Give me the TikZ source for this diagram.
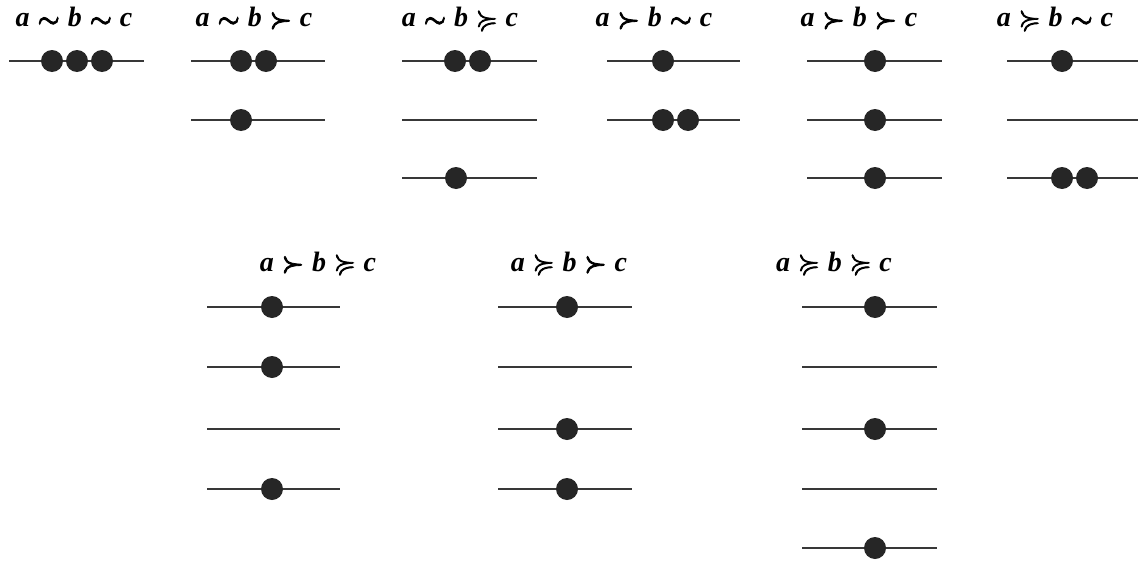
\documentclass[tikz,border=0pt]{standalone}
\usepackage{amssymb}
\usepackage{fontspec}
\setmainfont{Liberation Serif}
\newcommand{\lvline}[4]{%
  \coordinate (#1-w) at (#2,#4);
  \coordinate (#1-e) at (#3,#4);
  \draw[lvl] (#1-w) -- (#1-e);}
\newcommand{\R}[1]{$\mskip5mu\mathrel{\special{pdf:literal direct 2 Tr 0.8 w}#1\special{pdf:literal direct 0 Tr}}\mskip5mu$}
\begin{document}
\begin{tikzpicture}[x=1pt,y=-1pt,
  lvl/.style={line width=1.7pt, draw=black!78},
  pt/.style={circle, fill=black!85, inner sep=0pt, minimum size=22pt},
  lab/.style={font=\fontsize{28}{30}\selectfont\bfseries\itshape\boldmath, anchor=base, inner sep=0pt}]
\path[use as bounding box, fill=white] (0,0) rectangle (1138,562);

% ---------- labels ----------
\node[lab] (t1) at (74,27)   {a\R{\sim}b\R{\sim}c};
\node[lab] (t2) at (254,27)  {a\R{\sim}b\R{\succ}c};
\node[lab] (t3) at (460,27)  {a\R{\sim}b\R{\succcurlyeq}c};
\node[lab] (t4) at (654,27)  {a\R{\succ}b\R{\sim}c};
\node[lab] (t5) at (859,27)  {a\R{\succ}b\R{\succ}c};
\node[lab] (t6) at (1055,27) {a\R{\succcurlyeq}b\R{\sim}c};
\node[lab] (t7) at (318,271) {a\R{\succ}b\R{\succcurlyeq}c};
\node[lab] (t8) at (569,271) {a\R{\succcurlyeq}b\R{\succ}c};
\node[lab] (t9) at (834,271) {a\R{\succcurlyeq}b\R{\succcurlyeq}c};

% ---------- column 1 ----------
\lvline{c1r1}{9}{144}{61}
\node[pt] (c1d1) at (52,61) {};
\node[pt] (c1d2) at (77,61) {};
\node[pt] (c1d3) at (102,61) {};

% ---------- column 2 ----------
\lvline{c2r1}{191}{325}{61}
\lvline{c2r2}{191}{325}{120}
\node[pt] (c2d1) at (241,61) {};
\node[pt] (c2d2) at (266,61) {};
\node[pt] (c2d3) at (241,120) {};

% ---------- column 3 ----------
\lvline{c3r1}{402}{537}{61}
\lvline{c3r2}{402}{537}{120}
\lvline{c3r3}{402}{537}{178}
\node[pt] (c3d1) at (455,61) {};
\node[pt] (c3d2) at (480,61) {};
\node[pt] (c3d3) at (456,178) {};

% ---------- column 4 ----------
\lvline{c4r1}{607}{740}{61}
\lvline{c4r2}{607}{740}{120}
\node[pt] (c4d1) at (663,61) {};
\node[pt] (c4d2) at (663,120) {};
\node[pt] (c4d3) at (688,120) {};

% ---------- column 5 ----------
\lvline{c5r1}{807}{942}{61}
\lvline{c5r2}{807}{942}{120}
\lvline{c5r3}{807}{942}{178}
\node[pt] (c5d1) at (875,61) {};
\node[pt] (c5d2) at (875,120) {};
\node[pt] (c5d3) at (875,178) {};

% ---------- column 6 ----------
\lvline{c6r1}{1007}{1142}{61}
\lvline{c6r2}{1007}{1142}{120}
\lvline{c6r3}{1007}{1142}{178}
\node[pt] (c6d1) at (1062,61) {};
\node[pt] (c6d2) at (1062,178) {};
\node[pt] (c6d3) at (1087,178) {};

% ---------- lower A ----------
\lvline{c7r1}{207}{340}{307}
\lvline{c7r2}{207}{340}{367}
\lvline{c7r3}{207}{340}{429}
\lvline{c7r4}{207}{340}{489}
\node[pt] (c7d1) at (272,307) {};
\node[pt] (c7d2) at (272,367) {};
\node[pt] (c7d3) at (272,489) {};

% ---------- lower B ----------
\lvline{c8r1}{498}{632}{307}
\lvline{c8r2}{498}{632}{367}
\lvline{c8r3}{498}{632}{429}
\lvline{c8r4}{498}{632}{489}
\node[pt] (c8d1) at (567,307) {};
\node[pt] (c8d2) at (567,429) {};
\node[pt] (c8d3) at (567,489) {};

% ---------- lower C ----------
\lvline{c9r1}{802}{937}{307}
\lvline{c9r2}{802}{937}{367}
\lvline{c9r3}{802}{937}{429}
\lvline{c9r4}{802}{937}{489}
\lvline{c9r5}{802}{937}{548}
\node[pt] (c9d1) at (875,307) {};
\node[pt] (c9d2) at (875,429) {};
\node[pt] (c9d3) at (875,548) {};
\end{tikzpicture}
\end{document}
